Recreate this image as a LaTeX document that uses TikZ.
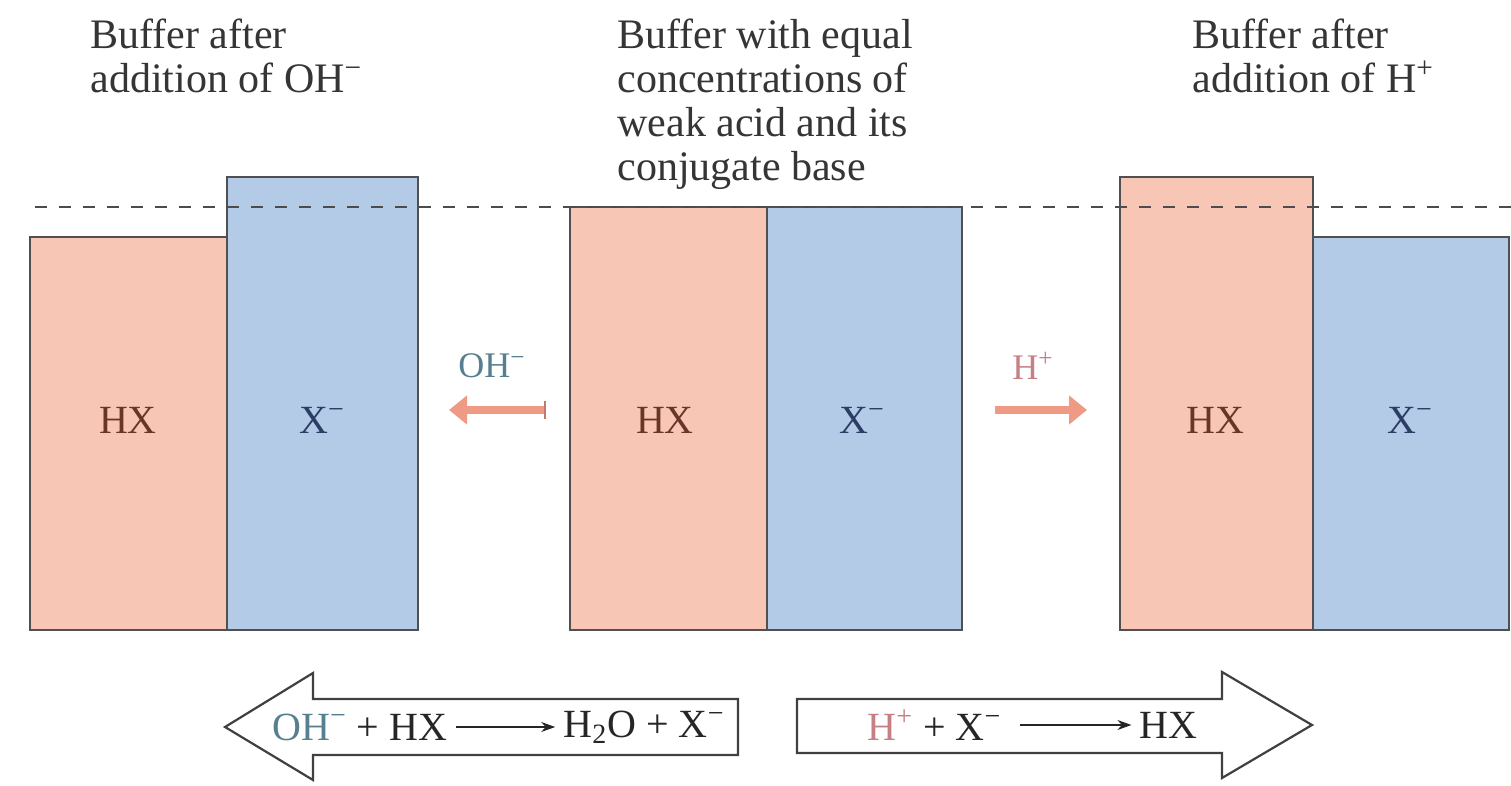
\documentclass[tikz,border=0pt]{standalone}
\usepackage{fontspec}
\setmainfont{Liberation Serif}
\usetikzlibrary{arrows.meta,fit}
\definecolor{pinkfill}{HTML}{F8C6B4}
\definecolor{bluefill}{HTML}{B3CBE6}
\definecolor{boxline}{HTML}{505050}
\definecolor{hxtext}{HTML}{6A3528}
\definecolor{xtext}{HTML}{2B3D66}
\definecolor{ohtext}{HTML}{56808F}
\definecolor{htext}{HTML}{C77F86}
\definecolor{smallarrow}{HTML}{EE9A84}
\definecolor{titletext}{HTML}{353535}
\begin{document}
\begin{tikzpicture}[x=0.5pt,y=-0.5pt,
  pinkbox/.style={draw=boxline,line width=1.2pt,fill=pinkfill,inner sep=0pt},
  bluebox/.style={draw=boxline,line width=1.2pt,fill=bluefill,inner sep=0pt},
  title/.style={font=\fontsize{21}{22}\selectfont,text=titletext,align=left,anchor=north west,inner sep=0pt},
  hxlabel/.style={font=\fontsize{20}{22}\selectfont,text=hxtext},
  xlabel/.style={font=\fontsize{20}{22}\selectfont,text=xtext},
  eqtext/.style={font=\fontsize{20}{22}\selectfont,text=black!85,inner sep=1pt},
  blockarrow/.style={draw=black!75,line width=1.1pt,fill=white,line join=miter},
  smallarr/.style={draw=smallarrow,line width=4pt,-{Triangle[length=9pt,width=14pt]}},
  reactarr/.style={draw=black!85,line width=0.8pt,-{Stealth[length=7pt,width=5pt]},shorten <=3pt,shorten >=3pt},
  dashline/.style={draw=black!70,line width=1pt,dash pattern=on 6pt off 6pt}]
\useasboundingbox (0,0) rectangle (1511,786);
\fill[white] (0,0) rectangle (1511,786);

% titles
\node[title] (t1) at (90,19) {Buffer after\\addition of OH\textsuperscript{−}};
\node[title] (t2) at (617,19) {Buffer with equal\\concentrations of\\weak acid and its\\conjugate base};
\node[title] (t3) at (1192,19) {Buffer after\\addition of H\textsuperscript{+}};

% boxes
\node[pinkbox,fit={(30,237) (227,630)}] (lhx) {};
\node[bluebox,fit={(227,177) (418,630)}] (lx) {};
\node[pinkbox,fit={(570,207) (767,630)}] (chx) {};
\node[bluebox,fit={(767,207) (962,630)}] (cx) {};
\node[pinkbox,fit={(1120,177) (1313,630)}] (rhx) {};
\node[bluebox,fit={(1313,237) (1509,630)}] (rx) {};

% dashed reference line
\coordinate (d1) at (35,207);
\coordinate (d2) at (1511,207);
\draw[dashline] (d1) -- (d2);

% box labels
\node[hxlabel] (lhxl) at (128,420) {HX};
\node[xlabel] (lxl) at (322,420) {X\textsuperscript{−}};
\node[hxlabel] (chxl) at (665,420) {HX};
\node[xlabel] (cxl) at (862,420) {X\textsuperscript{−}};
\node[hxlabel] (rhxl) at (1215,420) {HX};
\node[xlabel] (rxl) at (1410,420) {X\textsuperscript{−}};

% small arrows
\node[font=\fontsize{18}{20}\selectfont,text=ohtext] (ohl) at (492,366) {OH\textsuperscript{−}};
\coordinate (la1) at (545,410);
\coordinate (la2) at (449,410);
\draw[smallarr] (la1) -- (la2);
\draw[draw=smallarrow!80!black,line width=1pt] (545,401) -- (545,419);
\node[font=\fontsize{18}{20}\selectfont,text=htext] (hl) at (1033,366) {H\textsuperscript{+}};
\coordinate (ra1) at (995,410);
\coordinate (ra2) at (1087,410);
\draw[smallarr] (ra1) -- (ra2);

% bottom block arrows
\draw[blockarrow] (738,699) -- (313,699) -- (313,673) -- (225,727) -- (313,780) -- (313,755) -- (738,755) -- cycle;
\draw[blockarrow] (797,699) -- (1222,699) -- (1222,672) -- (1312,725) -- (1222,778) -- (1222,753) -- (797,753) -- cycle;

% reactions
\node[eqtext,anchor=west] (e1a) at (270,727) {\textcolor{ohtext}{OH\textsuperscript{−}} + HX};
\node[eqtext,anchor=east] (e1b) at (727,727) {H\textsubscript{2}O + X\textsuperscript{−}};
\draw[reactarr] (e1a.east) -- (e1b.west);
\node[eqtext,anchor=west] (e2a) at (865,725) {\textcolor{htext}{H\textsuperscript{+}} + X\textsuperscript{−}};
\node[eqtext,anchor=east] (e2b) at (1200,725) {HX};
\draw[reactarr,shorten <=8pt] (e2a.east) -- (e2b.west);
\end{tikzpicture}
\end{document}
